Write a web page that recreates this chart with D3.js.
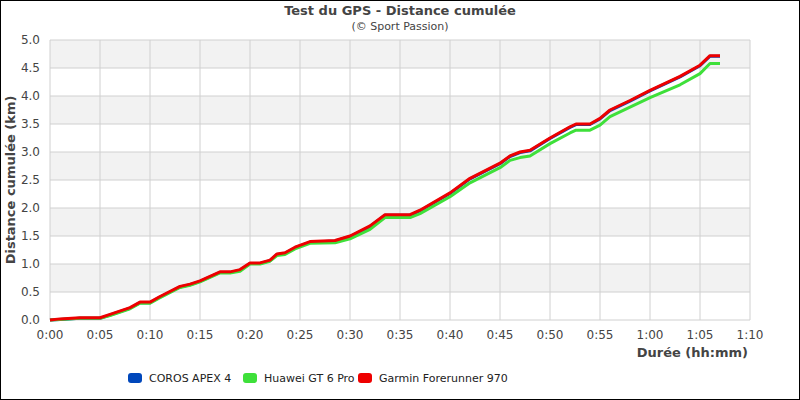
<!DOCTYPE html>
<html><head><meta charset="utf-8">
<script src="https://cdn.jsdelivr.net/npm/d3@7"></script>
<style>body{margin:0}svg{font-family:"DejaVu Sans",sans-serif}</style>
</head><body>
<script>
// minutes since start
var minutes = [0, 1, 3, 5, 6, 8, 9, 10, 11, 13, 14, 15, 17, 18, 19, 20, 21, 22, 22.7, 23.5, 24.5, 26, 28.5, 30, 32, 33.5, 36, 37, 40, 42, 45, 46, 47, 48, 50, 52, 52.6, 54, 55, 56, 58, 60, 63, 65, 66, 67];
var coros = [0, 0.01, 0.03, 0.03, 0.09, 0.21, 0.31, 0.31, 0.41, 0.59, 0.63, 0.69, 0.85, 0.85, 0.89, 1.01, 1.01, 1.06, 1.17, 1.19, 1.29, 1.39, 1.41, 1.49, 1.67, 1.87, 1.87, 1.95, 2.26, 2.52, 2.79, 2.92, 2.99, 3.02, 3.24, 3.44, 3.49, 3.49, 3.59, 3.74, 3.91, 4.09, 4.34, 4.54, 4.71, 4.71];
var huawei = [0, 0.01, 0.03, 0.03, 0.08, 0.2, 0.3, 0.3, 0.4, 0.58, 0.62, 0.68, 0.84, 0.84, 0.87, 1.0, 1.0, 1.05, 1.15, 1.17, 1.27, 1.37, 1.38, 1.45, 1.62, 1.83, 1.83, 1.9, 2.2, 2.45, 2.72, 2.85, 2.9, 2.93, 3.15, 3.34, 3.39, 3.39, 3.48, 3.63, 3.8, 3.97, 4.2, 4.4, 4.58, 4.58];
var garmin = [0, 0.02, 0.04, 0.04, 0.1, 0.22, 0.32, 0.32, 0.42, 0.6, 0.64, 0.7, 0.86, 0.86, 0.9, 1.02, 1.02, 1.07, 1.18, 1.2, 1.3, 1.4, 1.42, 1.5, 1.68, 1.88, 1.88, 1.96, 2.27, 2.53, 2.8, 2.93, 3.0, 3.03, 3.25, 3.45, 3.5, 3.5, 3.6, 3.75, 3.92, 4.1, 4.35, 4.55, 4.72, 4.72];
var seriesNames = ["COROS APEX 4", "Huawei GT 6 Pro", "Garmin Forerunner 970"];
var seriesColors = ["#0047bb", "#3ee03a", "#ee0000"];
var xTicks = d3.range(0, 71, 5);
var yTicks = d3.range(0, 5.01, 0.5);

var W = 800, H = 400;
var svg = d3.select("body").append("svg").attr("width", W).attr("height", H);
svg.append("rect").attr("x", 0.5).attr("y", 0.5).attr("width", W - 1).attr("height", H - 1)
  .attr("fill", "white").attr("stroke", "black");

var x = d3.scaleLinear().domain([0, 70]).range([50, 750]);
var y = d3.scaleLinear().domain([0, 5]).range([320, 40]);

// bands
svg.selectAll(".band").data(yTicks.slice(1).filter(function(d, i) { return i % 2 == 0; }))
  .enter().append("rect")
  .attr("x", x(0)).attr("width", x(70) - x(0))
  .attr("y", function(d) { return y(d + 0.5); })
  .attr("height", function(d) { return y(d) - y(d + 0.5); })
  .attr("fill", "#f2f2f2");

// grid
svg.append("g").selectAll("line").data(yTicks).enter().append("line")
  .attr("x1", x(0)).attr("x2", x(70))
  .attr("y1", function(d) { return y(d); }).attr("y2", function(d) { return y(d); })
  .attr("stroke", "#d0d0d0");
svg.append("g").selectAll("line").data(xTicks).enter().append("line")
  .attr("y1", y(0)).attr("y2", y(5))
  .attr("x1", function(d) { return x(d); }).attr("x2", function(d) { return x(d); })
  .attr("stroke", "#d0d0d0");

function fmt(m) { return Math.floor(m / 60) + ":" + d3.format("02")(m % 60); }

svg.append("g").selectAll("text").data(xTicks).enter().append("text")
  .attr("x", function(d) { return x(d); }).attr("y", 339)
  .attr("text-anchor", "middle").attr("font-size", 12).attr("fill", "#444")
  .text(fmt);
svg.append("g").selectAll("text").data(yTicks).enter().append("text")
  .attr("x", 40).attr("y", function(d) { return y(d) + 4; })
  .attr("text-anchor", "end").attr("font-size", 12).attr("fill", "#444")
  .text(function(d) { return d.toFixed(1); });

// lines
var data = [coros, huawei, garmin];
var line = d3.line().x(function(d, i) { return x(minutes[i]); }).y(function(d) { return y(d); });
svg.append("g").selectAll("path").data(data).enter().append("path")
  .attr("d", line).attr("fill", "none")
  .attr("stroke", function(d, i) { return seriesColors[i]; })
  .attr("stroke-width", 3).attr("stroke-linejoin", "round");

// titles
svg.append("text").attr("x", 400).attr("y", 15).attr("text-anchor", "middle")
  .attr("font-size", 13).attr("font-weight", "bold").attr("fill", "#444").text("Test du GPS - Distance cumulée");
svg.append("text").attr("x", 400).attr("y", 30).attr("text-anchor", "middle")
  .attr("font-size", 11).attr("fill", "#444").text("(© Sport Passion)");
svg.append("text").attr("x", 748).attr("y", 357).attr("text-anchor", "end")
  .attr("font-size", 13).attr("font-weight", "bold").attr("fill", "#444").text("Durée (hh:mm)");
svg.append("text").attr("transform", "translate(15,180) rotate(-90)").attr("text-anchor", "middle")
  .attr("font-size", 13).attr("font-weight", "bold").attr("fill", "#444").text("Distance cumulée (km)");

// legend
var legX = [128, 243, 358];
var leg = svg.append("g").selectAll("g").data(seriesNames).enter().append("g")
  .attr("transform", function(d, i) { return "translate(" + legX[i] + ",373)"; });
leg.append("rect").attr("width", 14).attr("height", 10).attr("rx", 3)
  .attr("fill", function(d, i) { return seriesColors[i]; });
leg.append("text").attr("x", 21).attr("y", 9).attr("font-size", 11).attr("fill", "#222")
  .text(function(d) { return d; });
</script>
</body></html>
